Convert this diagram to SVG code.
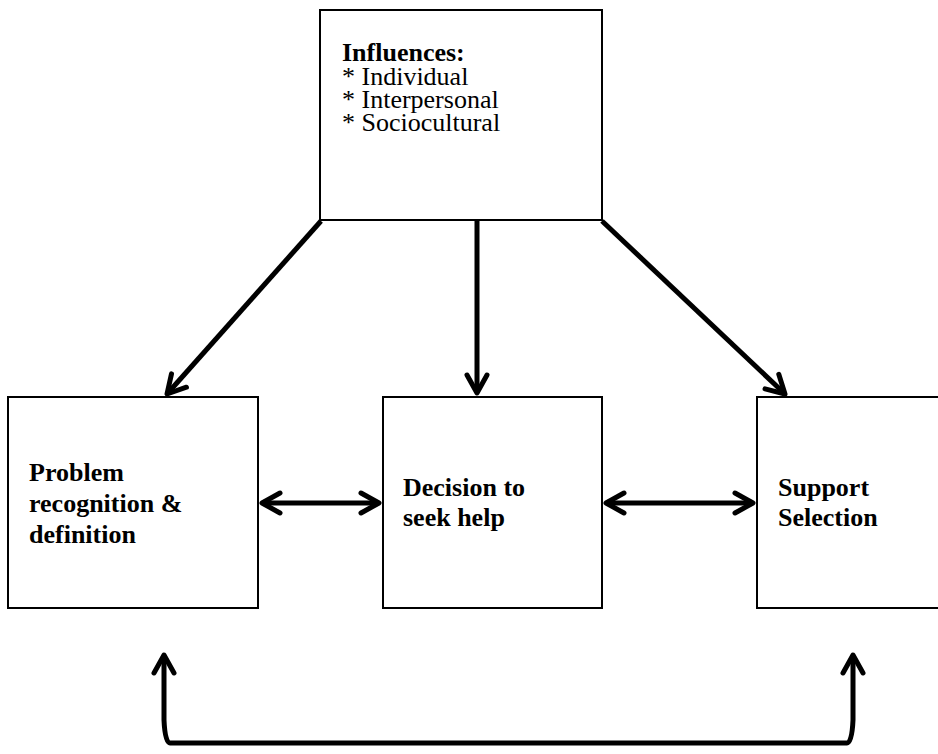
<svg xmlns="http://www.w3.org/2000/svg" width="938" height="754" viewBox="0 0 938 754">
<style>
.box{fill:#fff;stroke:#000;stroke-width:2}
.t{font-family:"Liberation Serif","Times New Roman",serif;font-size:26px;fill:#000}
.b{font-weight:bold}
.con{fill:none;stroke:#000;stroke-width:5}
</style>
<defs>
<marker id="ah" markerUnits="userSpaceOnUse" viewBox="-24 -15 28 30" refX="0" refY="0" markerWidth="28" markerHeight="30" orient="auto-start-reverse">
<path d="M-18,-10 L0,0 L-18,10" fill="none" stroke="#000" stroke-width="5" stroke-linecap="round" stroke-linejoin="round"/>
</marker>
</defs>
<rect width="938" height="754" fill="#fff"/>
<g id="influences">
<rect class="box" x="320" y="10" width="282" height="210"/>
<text class="t b" x="342" y="61">Influences:</text>
<text class="t" x="342" y="85">* Individual</text>
<text class="t" x="342" y="108">* Interpersonal</text>
<text class="t" x="342" y="131">* Sociocultural</text>
</g>
<g id="problem">
<rect class="box" x="8" y="397" width="250" height="211"/>
<text class="t b" x="29" y="481">Problem</text>
<text class="t b" x="29" y="512">recognition &amp;</text>
<text class="t b" x="29" y="543">definition</text>
</g>
<g id="decision">
<rect class="box" x="383" y="397" width="219" height="211"/>
<text class="t b" x="403" y="496">Decision to</text>
<text class="t b" x="403" y="526">seek help</text>
</g>
<g id="support">
<rect class="box" x="757" y="397" width="200" height="211"/>
<text class="t b" x="778" y="496">Support</text>
<text class="t b" x="778" y="526">Selection</text>
</g>
<g id="connectors">
<line class="con" x1="321" y1="221" x2="167" y2="394" marker-end="url(#ah)"/>
<line class="con" x1="477" y1="221" x2="477" y2="393" marker-end="url(#ah)"/>
<line class="con" x1="602" y1="221" x2="785" y2="394" marker-end="url(#ah)"/>
<line class="con" x1="262" y1="503" x2="379" y2="503" marker-start="url(#ah)" marker-end="url(#ah)"/>
<line class="con" x1="606" y1="503" x2="753" y2="503" marker-start="url(#ah)" marker-end="url(#ah)"/>
<path class="con" d="M164,655 L164,720 Q165,743 170,743 L847,743 Q852,743 853,720 L853,655" marker-start="url(#ah)" marker-end="url(#ah)"/>
</g>
</svg>
